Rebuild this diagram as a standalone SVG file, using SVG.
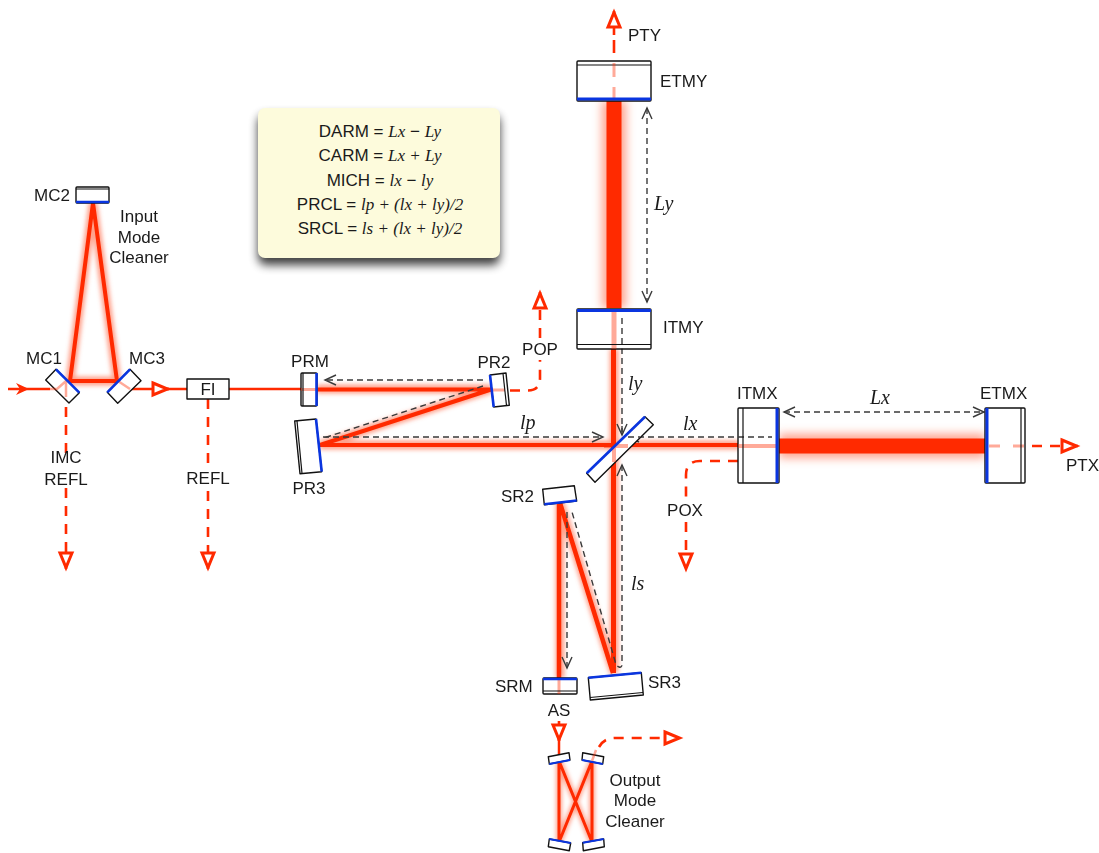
<svg xmlns="http://www.w3.org/2000/svg" width="1099" height="853" viewBox="0 0 1099 853">
<style>
text{font-family:"Liberation Sans",Arial,sans-serif;font-size:17px;fill:#1a1a1a}
.m{text-anchor:middle}
.i{font-family:"Liberation Serif","Times New Roman",serif;font-style:italic}
.v{font-family:"Liberation Serif","Times New Roman",serif;font-style:italic;font-size:20px}
.b{fill:none;stroke:#ff2a00;stroke-linecap:butt}
.g{fill:none;stroke:#ff7a5c;opacity:.7}
.o{fill:#fff;stroke:#111;stroke-width:1.4;stroke-linejoin:round}
.l{fill:none;stroke:#111;stroke-width:1.2}
.h{fill:none;stroke:#0a35e0;stroke-width:2.6}
.p{fill:none;stroke:#ff2a00;stroke-opacity:.4;stroke-width:2.5}
.d{fill:none;stroke:#ff2a00;stroke-width:2.6;stroke-dasharray:10 8}
.t{fill:none;stroke:#3a3a3a;stroke-width:1.4;stroke-dasharray:6 4}
</style>
<defs>
<filter id="blur4" filterUnits="userSpaceOnUse" x="0" y="0" width="1099" height="853"><feGaussianBlur stdDeviation="5"/></filter>
<filter id="blurb" filterUnits="userSpaceOnUse" x="0" y="0" width="1099" height="853"><feGaussianBlur stdDeviation="2"/></filter>
<filter id="shadow" x="-15%" y="-15%" width="130%" height="140%"><feGaussianBlur stdDeviation="5"/></filter>
<marker id="ga" markerUnits="userSpaceOnUse" markerWidth="12" markerHeight="12" orient="auto-start-reverse" refX="0" refY="0" overflow="visible"><path d="M-11,-5 L0,0 L-11,5" fill="none" stroke="#3a3a3a" stroke-width="1.4"/></marker>
<marker id="ra" markerUnits="userSpaceOnUse" markerWidth="18" markerHeight="14" orient="auto" refX="0" refY="0" overflow="visible"><path d="M-16,-6 L-1.500,0 L-16,6 Z" fill="#fff" stroke="#ff2a00" stroke-width="3"/></marker>
</defs>
<rect width="1099" height="853" fill="#fff"/>

<g id="note">
<rect x="258" y="115" width="242" height="150" rx="8" fill="#000" opacity=".75" filter="url(#shadow)"/>
<rect x="258" y="108" width="242" height="150" rx="7" fill="#fdfbdc"/>
<text class="m" x="380" y="137">DARM = <tspan class="i">Lx</tspan> − <tspan class="i">Ly</tspan></text>
<text class="m" x="380" y="161">CARM = <tspan class="i">Lx + Ly</tspan></text>
<text class="m" x="380" y="186">MICH = <tspan class="i">lx</tspan> − <tspan class="i">ly</tspan></text>
<text class="m" x="380" y="210">PRCL = <tspan class="i">lp + (lx + ly)/2</tspan></text>
<text class="m" x="380" y="234">SRCL = <tspan class="i">ls + (lx + ly)/2</tspan></text>
</g>

<g id="connectors">
<g id="beam-glow" filter="url(#blur4)">
<path class="g" style="stroke-width:24" d="M614,101V308M779,446H985"/>
</g>
<g id="beam-glow-thin" filter="url(#blurb)">
<path class="g" style="stroke-width:9" d="M70,381L93,203L117,381ZM317,389H491L320,445H740M614,349V673L560,503V678"/>
<path class="g" style="stroke-width:6" d="M559,761V842L592,761V842M559,761L592,842"/>
</g>
<g id="beams">
<path class="b" style="stroke-width:15" d="M614,101V308M779,446H985"/>
<path class="b" style="stroke-width:4" d="M70,381L93,203L117,381ZM317,389.500H491L320,445H740"/>
<path class="b" style="stroke-width:5" d="M613.500,349V673"/>
<path class="b" style="stroke-width:4.500" d="M613,673L560,503M559,503V678"/>
<path class="b" style="stroke-width:3" d="M559,761V842M592,761V842M559,761L592,842M592,761L559,842"/>
<path class="b" style="stroke-width:2.500" d="M8,389H50M130,389H187M229,389H301M559,727V757"/>
<path fill="#ff2a00" d="M16,383 L29,389 L16,395 L20,389 Z"/>
</g>
<g id="red-dashed">
<path class="d" style="stroke-dasharray:none" d="M155,389H169" marker-end="url(#ra)"/>
<path class="d" d="M66,407V457M66,488V569" marker-end="url(#ra)"/>
<path class="d" d="M208,399V466M208,491V569" marker-end="url(#ra)"/>
<path class="d" d="M510,390.500H528Q540,390.500 540,378V360M540,338V292" marker-end="url(#ra)"/>
<path class="d" d="M614,53V40M614,35V11" style="stroke-dasharray:none" marker-end="url(#ra)"/>
<path class="d" d="M1032,446H1078" marker-end="url(#ra)"/>
<path class="d" d="M738,461H700Q686,461 686,475V500M686,522V570" marker-end="url(#ra)"/>
<path class="d" d="M559,721V741" marker-end="url(#ra)"/>
<path class="d" d="M599,747Q604,738 615,738H681" marker-end="url(#ra)"/>
</g>
<g id="length-arrows">
<path class="t" d="M647,108V302" marker-start="url(#ga)" marker-end="url(#ga)"/>
<path class="t" d="M622,318V435" marker-start="url(#ga)" marker-end="url(#ga)"/>
<path class="t" d="M628,437H772" marker-start="url(#ga)" marker-end="url(#ga)"/>
<path class="t" d="M784,412H984" marker-start="url(#ga)" marker-end="url(#ga)"/>
<path class="t" d="M483,380H325" marker-end="url(#ga)"/>
<path class="t" d="M483,386L330,436Q324,438 325,437"/>
<path class="t" d="M323,437H603" marker-end="url(#ga)"/>
<path class="t" d="M622,465V664Q622,668 619,667Q616,666 615,661L572,512" marker-start="url(#ga)"/>
<path class="t" d="M567,512V668" marker-end="url(#ga)"/>
</g>
</g>

<g id="MC2"><rect class="o" x="76" y="187" width="33" height="16" rx="1"/><path class="l" d="M76,189H109"/><path class="h" d="M76,202H109"/><text x="34" y="201">MC2</text></g>
<g id="MC1"><path class="o" d="M56,369.300L79.300,392.700L69,403L45.700,380Z"/><path class="p" d="M50,389H57L66,381V397"/><path class="h" d="M56,369.300L79.300,392.700"/><text x="26" y="364">MC1</text></g>
<g id="MC3"><path class="o" d="M130,369.300L141,380.700L117.700,403.300L107.300,392.300Z"/><path class="p" d="M118,381L130,389"/><path class="h" d="M130,369.300L107.300,392.300"/><text x="129" y="364">MC3</text></g>
<g id="imc-label"><text class="m" x="139" y="222">Input</text><text class="m" x="139" y="243">Mode</text><text class="m" x="139" y="263">Cleaner</text></g>
<g id="imc-refl-label"><text class="m" x="66" y="463">IMC</text><text class="m" x="66" y="485">REFL</text></g>
<g id="FI"><rect class="o" x="187" y="379" width="42" height="20"/><text class="m" x="208" y="395">FI</text></g>
<g id="refl-label"><text class="m" x="208" y="484">REFL</text></g>
<g id="PRM"><rect class="o" x="301" y="373" width="16" height="33" rx="1"/><path class="p" d="M301,389.500H316" style="stroke-width:3"/><path class="l" d="M303,373V406"/><path class="h" d="M316.500,373V406"/><text class="m" x="310" y="367">PRM</text></g>
<g id="PR2"><path class="o" d="M490,375L506,373L509.300,405.300L493.700,407Z"/><path class="p" d="M492,390H505" style="stroke-width:3"/><path class="l" d="M503,373.500L506.500,405.500"/><path class="h" d="M490,375L493.700,407"/><text class="m" x="494" y="368">PR2</text></g>
<g id="POP-label"><text class="m" x="540" y="355">POP</text></g>
<g id="PR3"><path class="o" d="M294.700,421L316,419L321.700,471.700L300,473.700Z"/><path class="l" d="M297,421L302,473.500"/><path class="h" d="M316,419L321.700,471.700"/><text class="m" x="309" y="494">PR3</text></g>
<g id="ETMY"><rect class="o" x="577" y="61" width="74" height="40" rx="1"/><path class="l" d="M577,65H651"/><path class="p" d="M614,63V77M614,87V98" style="stroke-width:3"/><path class="h" style="stroke-width:3" d="M577,99H651"/><text x="660" y="87">ETMY</text></g>
<g id="ITMY"><rect class="o" x="577" y="309" width="74" height="40" rx="1"/><path class="p" d="M614,311V349" style="stroke-width:5"/><path class="t" d="M622,318V349"/><path class="l" d="M577,344.500H651"/><path class="h" style="stroke-width:3" d="M577,310.500H651"/><text x="663" y="333">ITMY</text></g>
<g id="ITMX"><rect class="o" x="738" y="408" width="41" height="75" rx="1"/><path class="p" d="M738,446H776" style="stroke-width:4"/><path class="t" d="M738,437H772"/><path class="l" d="M743,408V483"/><path class="h" style="stroke-width:3" d="M777,408V483"/><text x="737" y="399">ITMX</text></g>
<g id="ETMX"><rect class="o" x="985" y="408" width="40" height="75" rx="1"/><path class="p" d="M989,446H1000M1013,446H1024" style="stroke-width:3"/><path class="l" d="M1021,408V483"/><path class="h" style="stroke-width:3" d="M987,408V483"/><text x="980" y="399">ETMX</text></g>
<g id="PTY-label"><text x="628" y="41">PTY</text></g>
<g id="PTX-label"><text x="1066" y="471">PTX</text></g>
<g id="POX-label"><text class="m" x="685" y="516">POX</text></g>
<g id="BS"><path class="o" d="M645,416.700L653.300,424.700L595,482.300L586.700,473.300Z"/><path class="p" d="M614,446V462M604,446H628" style="stroke-width:4"/><path class="t" d="M622,426V435M628,437H640"/><path class="h" d="M645,416.700L586.700,473.300"/></g>
<g id="SR2"><path class="o" d="M542.700,489.300L574.300,485.700L576.700,501L544.300,504.700Z"/><path class="h" d="M544.300,504.200L576.700,500.500"/><text x="501" y="502">SR2</text></g>
<g id="SRM"><rect class="o" x="543" y="678" width="34" height="16" rx="1"/><path class="p" d="M559,680V694" style="stroke-width:3"/><path class="l" d="M543,691H577"/><path class="h" d="M543,679H577"/><text x="495" y="692">SRM</text></g>
<g id="SR3"><path class="o" d="M588.300,677.700L641.300,672.700L643.300,695L590.300,700Z"/><path class="l" d="M590,697.500L643,692.500"/><path class="h" d="M588.300,677.700L641.300,672.700"/><text x="648" y="688">SR3</text></g>
<g id="AS-label"><text class="m" x="559" y="716">AS</text></g>
<g id="OMC1"><path class="o" d="M548.300,756.700L569,752.700L570,760L549.300,764Z"/><path class="h" style="stroke-width:2" d="M549.300,764L570,760"/></g>
<g id="OMC2"><path class="o" d="M582.700,752.700L603.700,756.700L602.700,764L582,760Z"/><path class="p" d="M592,761L596,750"/><path class="h" style="stroke-width:2" d="M582,760L602.700,764"/></g>
<g id="OMC3"><path class="o" d="M549.300,839L570.700,843L569.300,850.700L548.300,846.700Z"/><path class="h" style="stroke-width:2" d="M549.300,839L570.700,843"/></g>
<g id="OMC4"><path class="o" d="M582.700,842.700L603.700,839L604.300,846.700L583.300,850.700Z"/><path class="h" style="stroke-width:2" d="M582.700,842.700L603.700,839"/></g>
<g id="omc-label"><text class="m" x="635" y="786">Output</text><text class="m" x="635" y="806">Mode</text><text class="m" x="635" y="827">Cleaner</text></g>
<g id="length-labels">
<text class="v" x="654" y="210">Ly</text>
<text class="v" x="628" y="390">ly</text>
<text class="v" x="683" y="430">lx</text>
<text class="v" x="870" y="404">Lx</text>
<text class="v" x="520" y="429">lp</text>
<text class="v" x="631" y="590">ls</text>
</g>
</svg>
